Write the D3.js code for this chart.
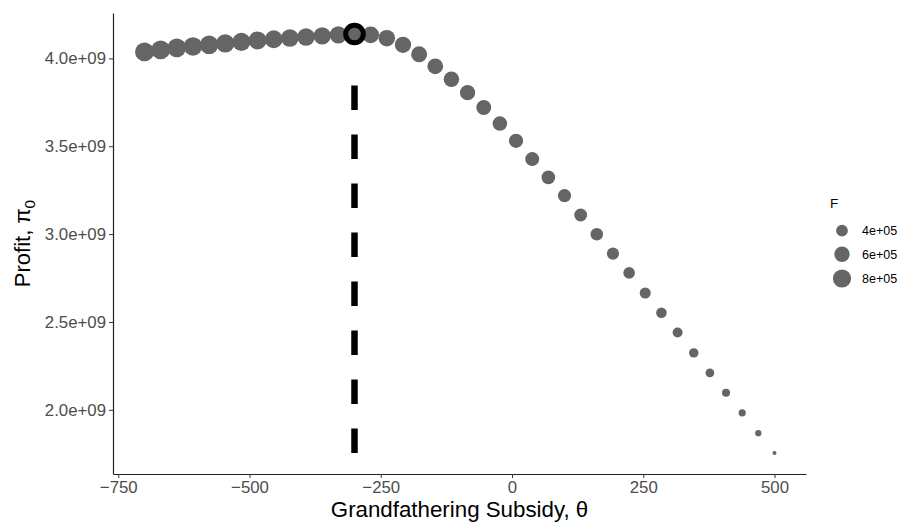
<!doctype html>
<html lang="en">
<head>
<meta charset="utf-8">
<style>
  body { margin: 0; background: #fff; }
  svg { display: block; font-family: "Liberation Sans", Arial, Helvetica, sans-serif; }
  .tick text { fill: #4d4d4d; font-size: 16.8px; }
  .tick line { stroke: #333; }
  .domain { stroke: #222; stroke-width: 1.2px; }
</style>
<script src="https://d3js.org/d3.v7.min.js"></script>
</head>
<body>
<svg width="898" height="523"></svg>
<script>
// grandfathering subsidy (theta)
const theta = [-700, -669.2, -638.5, -607.7, -576.9, -546.2, -515.4, -484.6, -453.8, -423.1,
  -392.3, -361.5, -330.8, -300, -269.2, -238.5, -207.7, -176.9, -146.2, -115.4,
  -84.6, -53.8, -23.1, 7.7, 38.5, 69.2, 100, 130.8, 161.5, 192.3,
  223.1, 253.8, 284.6, 315.4, 346.2, 376.9, 407.7, 438.5, 469.2, 500];

// profit pi_0
const profit = [4.037e9, 4.048e9, 4.060e9, 4.068e9, 4.077e9, 4.085e9, 4.094e9, 4.102e9, 4.109e9, 4.116e9,
  4.122e9, 4.128e9, 4.134e9, 4.139e9, 4.134e9, 4.115e9, 4.077e9, 4.023e9, 3.955e9, 3.881e9,
  3.805e9, 3.720e9, 3.629e9, 3.531e9, 3.427e9, 3.323e9, 3.219e9, 3.109e9, 2.999e9, 2.889e9,
  2.779e9, 2.665e9, 2.552e9, 2.440e9, 2.324e9, 2.210e9, 2.097e9, 1.983e9, 1.867e9, 1.754e9];

// F (point size)
const F = [860000, 852000, 843000, 834000, 824000, 813000, 802000, 790000, 777000, 764000,
  750000, 736000, 721000, 706000, 690000, 674000, 657000, 640000, 623000, 605000,
  587000, 568000, 549000, 530000, 511000, 492000, 473000, 454000, 435000, 416000,
  396000, 372000, 352000, 333000, 314000, 295000, 277000, 260000, 245000, 230000];

const optimumTheta = -300;
const dashTop = 3.87e9;

const xTicks = [-750, -500, -250, 0, 250, 500];
const xTickLabels = ["\u2212750", "\u2212500", "\u2212250", "0", "250", "500"];
const yTicks = [2.0e9, 2.5e9, 3.0e9, 3.5e9, 4.0e9];
const yTickLabels = ["2.0e+09", "2.5e+09", "3.0e+09", "3.5e+09", "4.0e+09"];
const legendBreaks = [400000, 600000, 800000];
const legendLabels = ["4e+05", "6e+05", "8e+05"];

const data = theta.map((t, i) => ({ theta: t, profit: profit[i], F: F[i] }));

const panel = { left: 113, right: 806, top: 13, bottom: 474 };
const svg = d3.select("svg");

// ggplot-like 5% expansion
function expand(ext) {
  const pad = (ext[1] - ext[0]) * 0.05;
  return [ext[0] - pad, ext[1] + pad];
}

const x = d3.scaleLinear()
  .domain(expand(d3.extent(theta)))
  .range([panel.left, panel.right]);

const y = d3.scaleLinear()
  .domain(expand(d3.extent(profit)))
  .range([panel.bottom, panel.top]);

// size scale: area mapping onto size 1..6, then to pixel radius
const fExt = d3.extent(F);
const sizeScale = d3.scaleSqrt().domain([0, fExt[1] - fExt[0]]).range([0, 5]);
const radius = f => 1.05 * ((1 + sizeScale(f - fExt[0])) * 2.845 + 0.94) / 2;

const pointColour = "#656565";

// axes
svg.append("g")
  .attr("transform", `translate(0,${panel.bottom})`)
  .call(d3.axisBottom(x).tickValues(xTicks).tickFormat((d, i) => xTickLabels[i])
    .tickSize(4).tickSizeOuter(0).tickPadding(3));

svg.append("g")
  .attr("transform", `translate(${panel.left},0)`)
  .call(d3.axisLeft(y).tickValues(yTicks).tickFormat((d, i) => yTickLabels[i])
    .tickSize(4).tickSizeOuter(0).tickPadding(3));

svg.selectAll(".tick text").attr("font-family", null).attr("font-size", null);
svg.selectAll(".domain").attr("stroke", "#222");

// points
svg.append("g")
  .selectAll("circle")
  .data(data)
  .join("circle")
  .attr("cx", d => x(d.theta))
  .attr("cy", d => y(d.profit))
  .attr("r", d => radius(d.F))
  .attr("fill", pointColour);

// dashed marker line at the optimum
svg.append("line")
  .attr("x1", x(optimumTheta))
  .attr("x2", x(optimumTheta))
  .attr("y1", y(d3.min(profit)))
  .attr("y2", y(dashTop))
  .attr("stroke", "#000")
  .attr("stroke-width", 6.5)
  .attr("stroke-dasharray", "24.5,24.5");

// highlighted optimum
const best = data.find(d => d.theta === optimumTheta);
svg.append("circle")
  .attr("cx", x(best.theta))
  .attr("cy", y(best.profit))
  .attr("r", 8.8)
  .attr("fill", "none")
  .attr("stroke", "#000")
  .attr("stroke-width", 5);

// axis titles
svg.append("text")
  .attr("x", (panel.left + panel.right) / 2)
  .attr("y", 517)
  .attr("text-anchor", "middle")
  .attr("font-size", "22.3px")
  .attr("fill", "#000")
  .text("Grandfathering Subsidy, \u03b8");

const yTitle = svg.append("text")
  .attr("transform", `translate(30,${(panel.top + panel.bottom) / 2}) rotate(-90)`)
  .attr("text-anchor", "middle")
  .attr("font-size", "22px")
  .attr("fill", "#000");
yTitle.append("tspan").text("Profit, \u03c0");
yTitle.append("tspan").attr("dy", 5).attr("font-size", "15.5px").text("0");

// legend
const legend = svg.append("g");
legend.append("text")
  .attr("x", 830)
  .attr("y", 208)
  .attr("font-size", "13.5px")
  .attr("fill", "#000")
  .text("F");

const keyY = [230.7, 254.3, 278.5];
legendBreaks.forEach((b, i) => {
  legend.append("circle")
    .attr("cx", 842)
    .attr("cy", keyY[i])
    .attr("r", radius(b))
    .attr("fill", pointColour);
  legend.append("text")
    .attr("x", 862)
    .attr("y", keyY[i] + 4.5)
    .attr("font-size", "12.5px")
    .attr("fill", "#000")
    .text(legendLabels[i]);
});
</script>
</body>
</html>
